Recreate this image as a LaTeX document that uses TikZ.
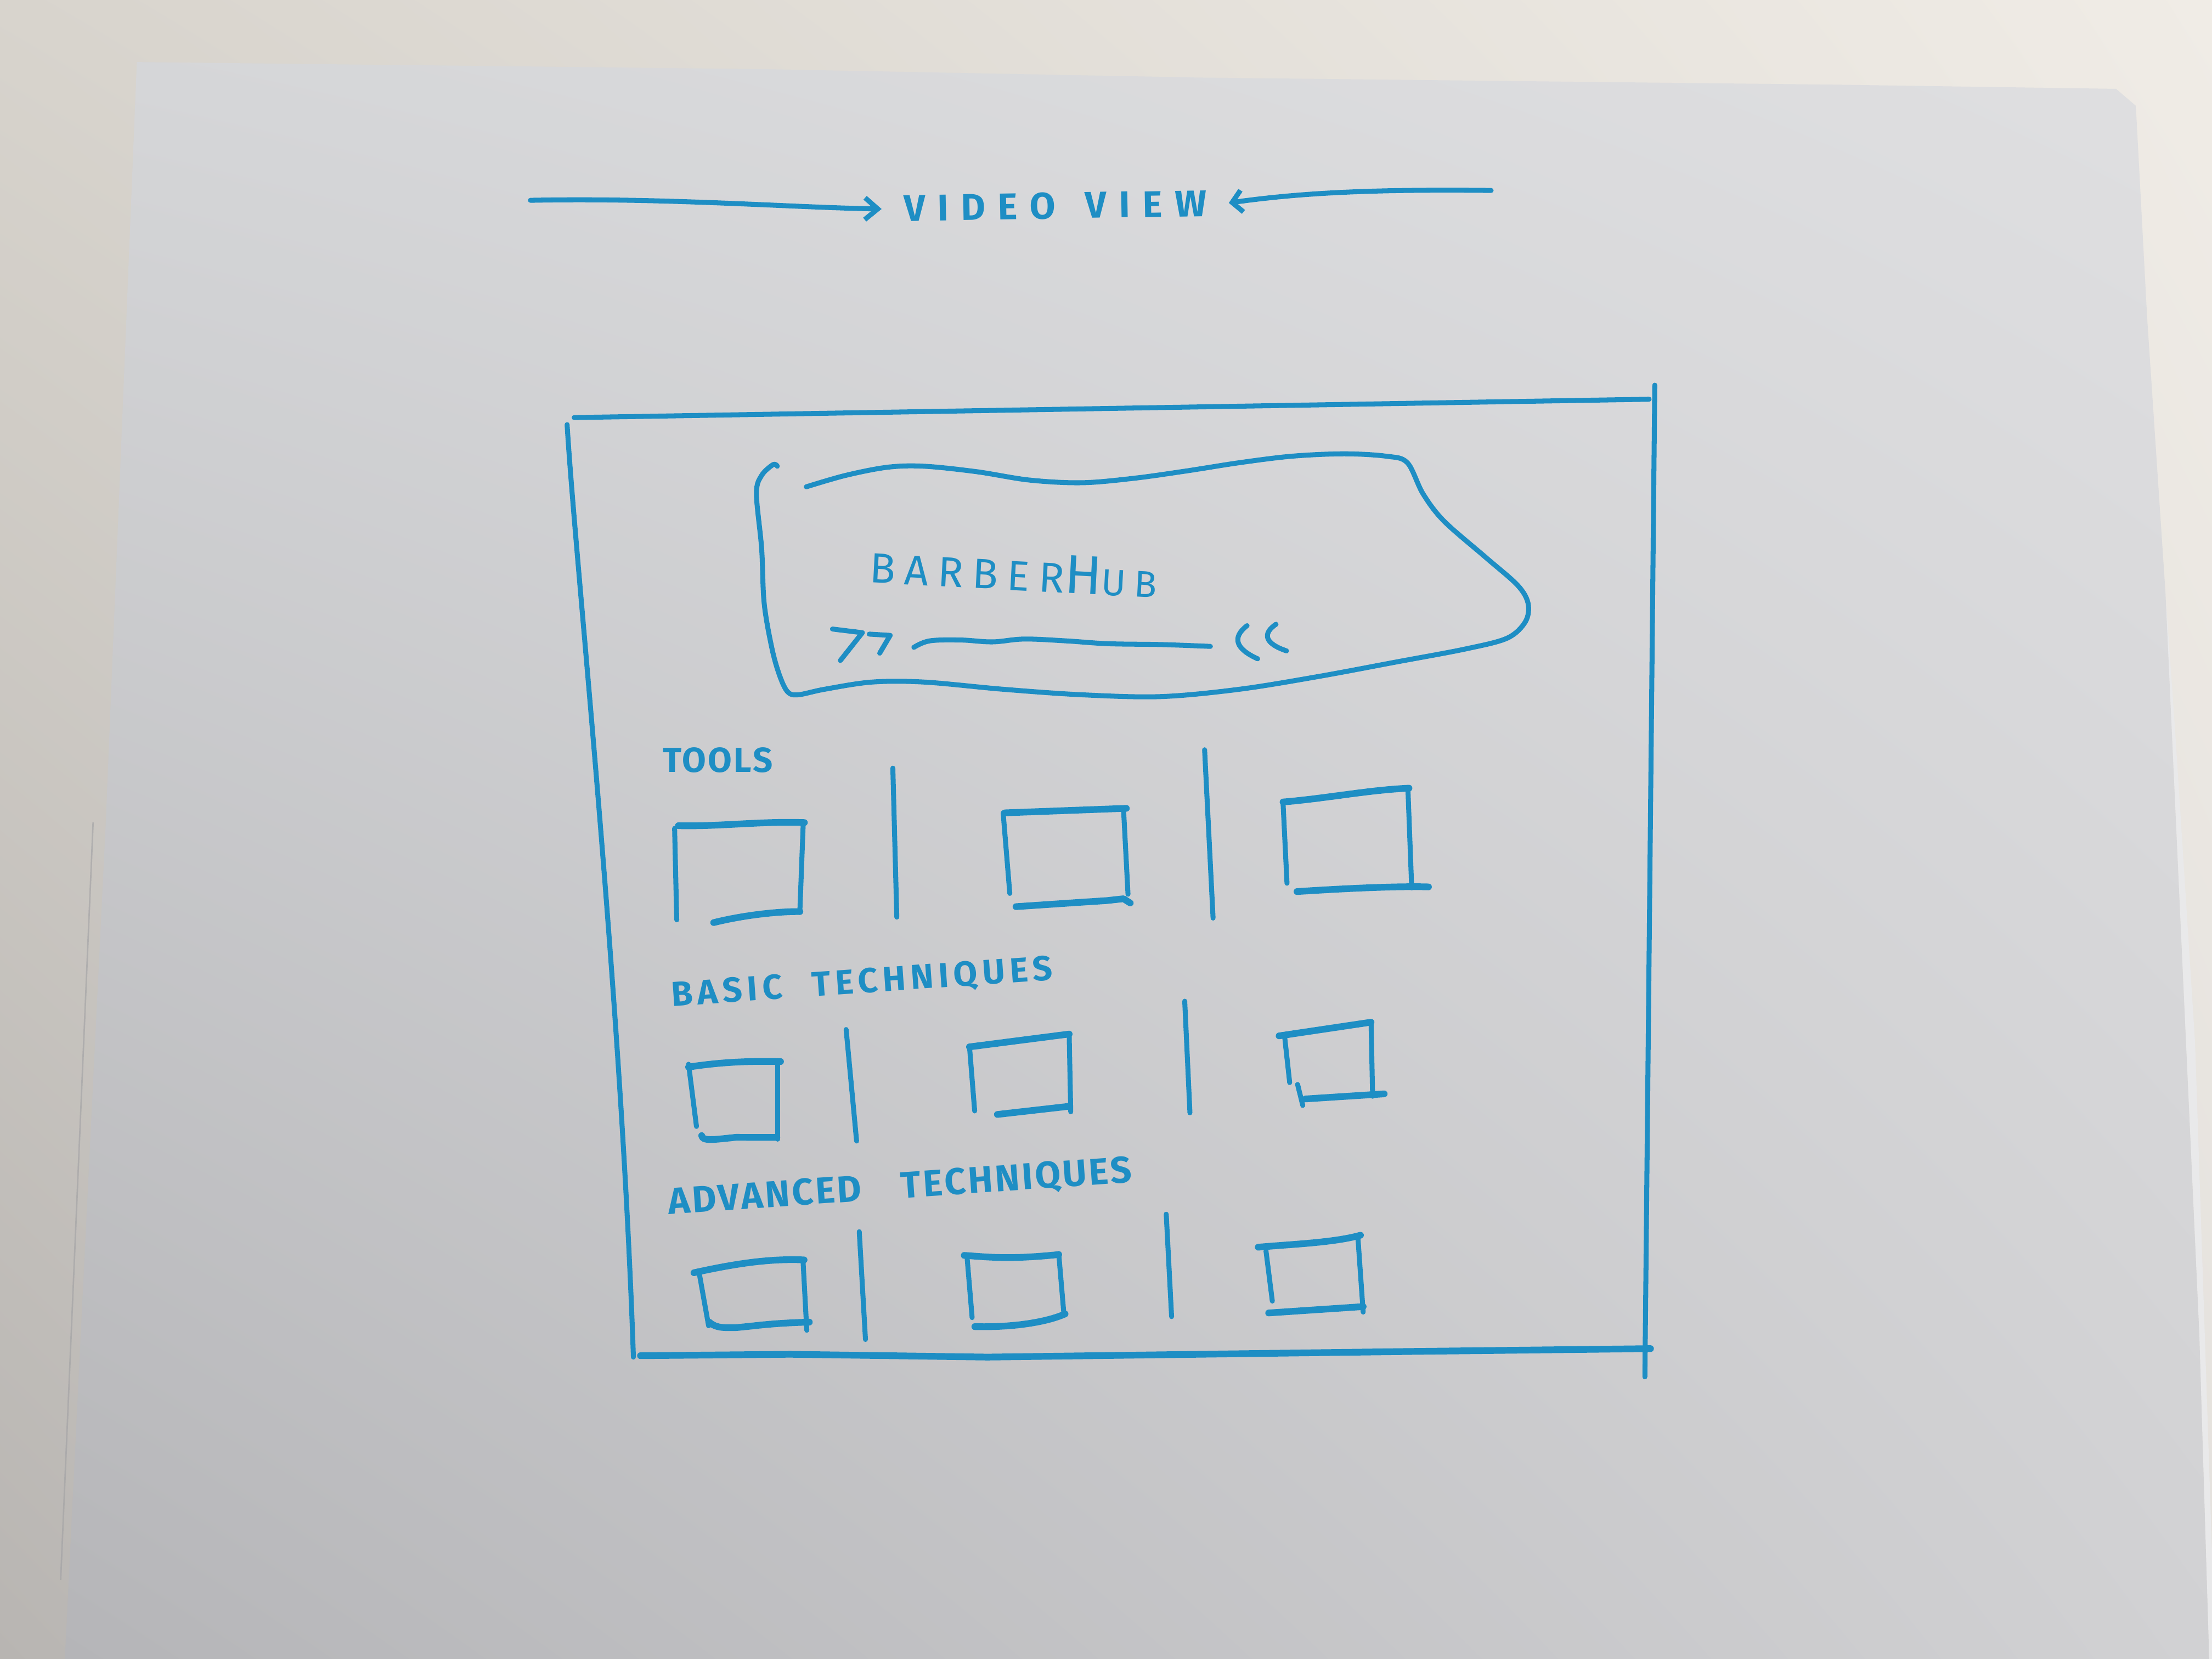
\documentclass[tikz,border=0pt]{standalone}
\usepackage{fontspec}
\newfontfamily\hand{Fira Sans}
\usetikzlibrary{arrows.meta,shadings}

% marker ink and paper tones
\definecolor{ink}{RGB}{30,142,196}
\definecolor{deskUL}{RGB}{216,212,205}
\definecolor{deskUR}{RGB}{240,236,230}
\definecolor{deskLL}{RGB}{184,181,178}
\definecolor{deskLR}{RGB}{228,225,221}
\definecolor{paperUL}{RGB}{213,214,216}
\definecolor{paperUR}{RGB}{223,223,225}
\definecolor{paperLL}{RGB}{181,181,184}
\definecolor{paperLR}{RGB}{209,209,211}
\definecolor{sheetedge}{RGB}{160,160,163}

\begin{document}
\begin{tikzpicture}[x=0.01cm,y=-0.01cm,
  pen/.style={draw=ink, line width=1pt, line cap=round, line join=round},
  heavy/.style={pen, line width=1.35pt},
  lbl/.style={text=ink, inner sep=0pt, outer sep=0pt},
]
\useasboundingbox (0,0) rectangle (1568,1176);

% desk and paper sheets
\shade[upper left=deskUL, upper right=deskUR, lower left=deskLL, lower right=deskLR]
  (0,0) rectangle (1568,1176);
\fill[paperUR!70!white] (1535,420) -- (1542,520) -- (1556,739) -- (1568,1100)
  -- (1568,1176) -- (1566,1176) -- (1559,946) -- cycle;
\shade[upper left=paperUL, upper right=paperUR, lower left=paperLL, lower right=paperLR]
  (97,44) -- (540,49) -- (850,55) -- (1300,60) -- (1500,63) -- (1514,75)
  -- (1522,225) -- (1535,420) -- (1559,946) -- (1566,1176)
  -- (46,1176) -- (75,583) -- cycle;
\draw[sheetedge, line width=0.3pt, opacity=0.6] (66,583) -- (43,1120);

% page title with arrows pointing at it
\node[lbl, rotate=1, inner xsep=4.5pt,
      font=\hand\bfseries\fontsize{7.5}{9}\selectfont\addfontfeature{LetterSpace=34}]
  (title) at (748,146) {VIDEO\hspace{6pt}VIEW};
\coordinate (la) at (376,142);
\coordinate (ra) at (1057,135);
\draw[pen, -{Straight Barb[length=2.6pt,width=4.4pt]}]
  (la) .. controls (470,140) and (560,147) .. (title.west);
\draw[pen, -{Straight Barb[length=2pt,width=4.4pt]}]
  (ra) .. controls (970,134) and (920,137) .. (title.east);

% outer screen frame
\draw[pen] (407,296) -- (1169,283);
\draw[pen] (402,301) .. controls (408,400) and (440,700) .. (449,962);
\draw[pen] (1173,273) -- (1166,976);
\draw[heavy] (454,961) -- (560,960) -- (700,962) -- (1000,958) -- (1170,956);

% hero banner
\draw[pen] plot[smooth, tension=0.55] coordinates {
  (571.5,345.1) (599.4,337) (629.2,331.2) (655.2,330.5) (692.5,334.4)
  (729.7,340.3) (766.9,342.2) (804.1,339) (841.3,333.8) (878.5,328)
  (915.7,323.4) (952.9,321.7) (982.7,323.4) (997.6,328) (1008.7,350)
  (1023.6,369.4) (1053.4,395.3) (1075.7,414.8) (1083.2,427.7) (1081.3,440.7)
  (1068.3,452.4) (1038.5,460.1) (990.1,469.2) (934.3,479.6) (878.5,488.6)
  (822.7,493.8) (766.9,492.5) (711.1,488.6) (655.2,483.5) (618,483.5)
  (584.5,488.6) (565.9,492.5) (558.5,490.6) (552.9,479.6) (547.3,460.1)
  (541.7,427.7) (539.9,388.9) (536.2,350) (539.9,337) (548.1,329.3) (551,330.5)};
\node[lbl, rotate=-3, anchor=base west] (brand) at (616,413)
  {\hand\fontsize{8.5}{10}\selectfont\addfontfeature{LetterSpace=22}BARBER%
   \fontsize{11}{12}\selectfont H%
   \fontsize{7.5}{9}\selectfont\addfontfeature{LetterSpace=22}UB};
% slider controls
\draw[pen] (590.1,445.9) -- (611.3,448.5) -- (595.7,468.2);
\draw[pen] (616.2,449.5) -- (631,450.4) -- (623.6,463);
\draw[pen] plot[smooth, tension=0.6] coordinates {
  (647.8,458.9) (659,454.3) (681.3,453.7) (703.6,455) (726,453)
  (755.7,454.3) (785.5,456.3) (822.7,456.9) (858,458.2)};
\draw[pen] (884,443.5) .. controls (873,452) and (876,460) .. (891.5,467);
\draw[pen] (904.5,442.5) .. controls (895,449) and (896,456) .. (912,461.4);

% section: tools
\node[lbl, font=\hand\bfseries\fontsize{7}{8}\selectfont\addfontfeature{LetterSpace=5}]
  (tools) at (509,539) {TOOLS};
\draw[pen] (478.2,587.2) -- (479.7,652);
\draw[heavy] (480.9,585.3) .. controls (510,586) and (540,582) .. (570.2,583.1);
\draw[pen] (569.4,583.1) -- (567,645.6);
\draw[heavy] (505.9,654) .. controls (530,648) and (555,646) .. (567,646.2);
\draw[pen] (632.9,544.5) -- (635.7,650.1);
\draw[heavy] (712.3,576.2) -- (798.4,573);
\draw[pen] (711.1,576.2) -- (715.8,633.3);
\draw[pen] (796.4,573) -- (799.6,633.9);
\draw[heavy] (720.2,642.7) -- (764.6,639.7) -- (784.5,638.4) -- (796.4,637.1) -- (801.2,640.1);
\draw[pen] (853.9,531.5) -- (859.9,650.8);
\draw[heavy] (909.5,568.5) .. controls (940,566) and (970,560) .. (998.8,558.7);
\draw[pen] (909.5,569.1) -- (912.3,626.1);
\draw[pen] (998,558.7) -- (1000.7,629.4);
\draw[heavy] (919.4,632) .. controls (950,630) and (990,628) .. (1012.6,628.7);

% section: basic techniques
\node[lbl, rotate=4, font=\hand\bfseries\fontsize{7}{8}\selectfont\addfontfeature{LetterSpace=14}]
  (basic) at (611,697) {BASIC\hspace{6pt}TECHNIQUES};
\draw[heavy] (488.1,756.4) .. controls (510,753) and (530,752) .. (553.3,752.5);
\draw[pen] (488.1,754.4) -- (493.7,798.5);
\draw[pen] (551.4,751.8) -- (551.4,807.5);
\draw[heavy] (497.4,805) .. controls (498,809) and (505,808) .. (521.6,806.2) -- (550.7,806.3);
\draw[pen] (599.8,729.8) -- (607.2,808.8);
\draw[heavy] (687.2,742.1) -- (757.9,733);
\draw[pen] (687.2,741.5) -- (690.9,787.5);
\draw[pen] (757.9,733) -- (759,788.1);
\draw[heavy] (707,790) -- (757.9,784.2);
\draw[pen] (839.8,709.7) -- (843.5,788.8);
\draw[heavy] (906.7,734.3) -- (971.9,724.6);
\draw[pen] (910.5,733.7) -- (914.2,767.4);
\draw[pen] (919.8,768.7) -- (923.5,783.6);
\draw[pen] (971.9,724.6) -- (973,777.1);
\draw[heavy] (925.4,779) -- (981.2,775.4);

% section: advanced techniques
\node[lbl, rotate=4, font=\hand\bfseries\fontsize{7.5}{9}\selectfont\addfontfeature{LetterSpace=6}]
  (advanced) at (638,842) {ADVANCED\hspace{8pt}TECHNIQUES};
\draw[heavy] (491.9,902.2) .. controls (520,896) and (545,892) .. (570,893.1);
\draw[pen] (495.6,902.2) -- (502.3,939.8);
\draw[pen] (569.2,893.1) -- (571.9,943);
\draw[heavy] (502.8,937.2) .. controls (508,942) and (515,941) .. (521.6,941.1)
  .. controls (535,940) and (545,938) .. (573.7,937.2);
\draw[pen] (609.1,873.1) -- (613.5,949.5);
\draw[heavy] (683.5,889.9) .. controls (700,891) and (715,893) .. (750.5,889.3);
\draw[pen] (685.4,889.9) -- (689.1,934);
\draw[pen] (750.5,888.6) -- (754.2,932);
\draw[heavy] (691,940.4) .. controls (715,941) and (740,938) .. (755,931.4);
\draw[pen] (826.7,860.7) -- (830.5,933.3);
\draw[heavy] (891.9,884.1) .. controls (915,882) and (945,881) .. (964.4,875.6);
\draw[pen] (897.4,886.7) -- (901.9,922.3);
\draw[pen] (962.6,877.6) -- (966.3,930.1);
\draw[heavy] (899.3,930.7) -- (966.3,926.2);
\end{tikzpicture}
\end{document}
